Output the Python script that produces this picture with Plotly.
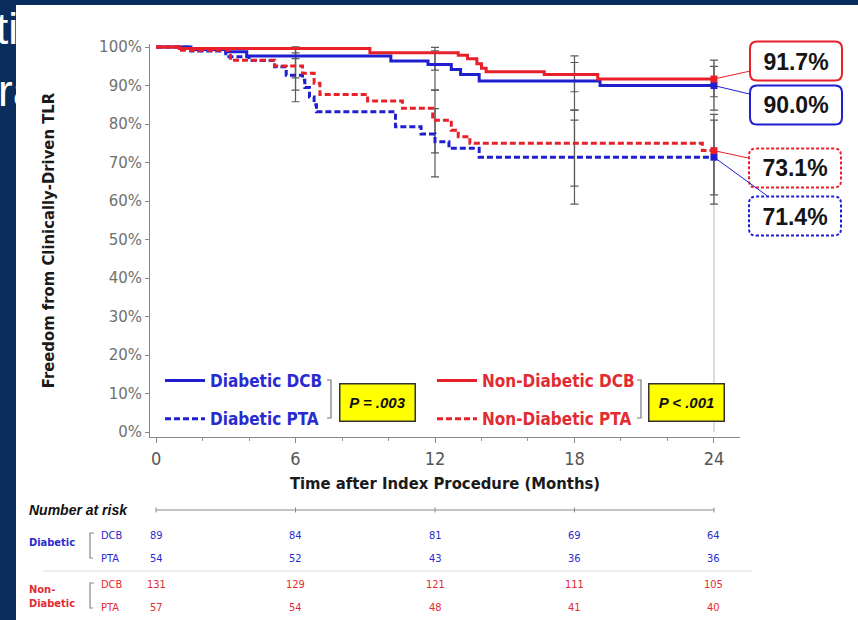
import plotly.graph_objects as go

# ---------------- data ----------------
months_ticks = [0, 6, 12, 18, 24]
y_ticks = [0, 10, 20, 30, 40, 50, 60, 70, 80, 90, 100]
y_tick_labels = [f"{v}%" for v in y_ticks]

# Kaplan-Meier step curves (month, % free from CD-TLR)
dcb_d_t = [0, 1.5, 3.0, 3.9, 10.1, 11.7, 12.7, 13.1, 13.9, 19.1, 24]
dcb_d_s = [100, 99.4, 98.8, 97.7, 96.4, 95.5, 94.2, 92.9, 91.2, 90.0, 90.0]

pta_d_t = [0, 1.5, 3.0, 4.0, 5.1, 5.6, 6.3, 6.4, 6.6, 6.8, 6.9, 10.3, 11.4, 12.0, 12.6, 13.9, 24]
pta_d_s = [100, 99.0, 97.5, 96.5, 94.9, 92.7, 91.4, 89.5, 87.0, 85.0, 83.2, 79.3, 77.4, 75.4, 73.7, 71.4, 71.4]

dcb_n_t = [0, 1.0, 9.2, 13.0, 13.4, 13.8, 14.0, 14.2, 16.7, 19.0, 24]
dcb_n_s = [100, 99.6, 98.5, 97.9, 97.0, 95.7, 94.5, 93.6, 92.9, 91.7, 91.7]

pta_n_t = [0, 1.0, 3.2, 5.1, 6.3, 6.8, 7.05, 9.1, 10.6, 11.9, 12.7, 13.0, 13.5, 23.5, 24]
pta_n_s = [100, 99.2, 96.6, 95.1, 93.2, 90.6, 87.7, 86.0, 84.1, 81.0, 78.4, 76.7, 75.0, 73.1, 73.1]

# 95% confidence intervals at 6, 12, 18, 24 months
ci_t = [6, 12, 18, 24]
dcb_d_est = [97.7, 95.5, 91.2, 90.0]
dcb_d_lo = [92.0, 88.8, 83.6, 83.6]
dcb_d_hi = [100.0, 99.0, 96.0, 95.0]
dcb_n_est = [99.6, 98.5, 92.9, 91.7]
dcb_n_lo = [97.0, 94.0, 88.4, 87.1]
dcb_n_hi = [100.0, 99.9, 97.7, 96.6]
pta_d_est = [92.7, 75.4, 71.4, 71.4]
pta_d_lo = [85.8, 66.3, 59.2, 59.2]
pta_d_hi = [98.5, 84.0, 81.0, 81.0]
pta_n_est = [95.1, 81.0, 75.0, 73.1]
pta_n_lo = [88.8, 72.5, 63.9, 61.6]
pta_n_hi = [99.5, 88.8, 83.6, 82.5]

# number at risk
risk_dcb_d = [89, 84, 81, 69, 64]
risk_pta_d = [54, 52, 43, 36, 36]
risk_dcb_n = [131, 129, 121, 111, 105]
risk_pta_n = [57, 54, 48, 41, 40]

p_diabetic = "P = .003"
p_nondiabetic = "P < .001"

# ---------------- style / layout helpers ----------------
W, H = 858, 620
L, R, T, B = 150, 740, 44, 437
XR = [-0.26, 25.12]
YR = [-1.3, 100.8]
BLUE = "#1f1fd0"
RED = "#e8202a"
BLUE_T = "#2a2ad0"
RED_T = "#e32b33"
NAVY = "#0b2d5e"
NARROW = "Noto Sans Condensed, DejaVu Sans Condensed, sans-serif"
SANS = "Liberation Sans, Arial, sans-serif"
DASH = "6px,3px"


def px_x(m):
    return L + (m - XR[0]) / (XR[1] - XR[0]) * (R - L)


def px_y(v):
    return B - (v - YR[0]) / (YR[1] - YR[0]) * (B - T)


def pap_x(px):
    return (px - L) / (R - L)


def pap_y(py):
    return (B - py) / (B - T)


fig = go.Figure()

# confidence interval bars
for est, lo, hi in [(dcb_d_est, dcb_d_lo, dcb_d_hi), (dcb_n_est, dcb_n_lo, dcb_n_hi),
                    (pta_d_est, pta_d_lo, pta_d_hi), (pta_n_est, pta_n_lo, pta_n_hi)]:
    fig.add_trace(go.Scatter(
        x=ci_t, y=est, mode="markers", marker=dict(size=1, color="rgba(0,0,0,0)"),
        error_y=dict(type="data", symmetric=False,
                     array=[h - e for h, e in zip(hi, est)],
                     arrayminus=[e - l for e, l in zip(est, lo)],
                     color="#5a5a5a", thickness=1.2, width=4),
        showlegend=False, hoverinfo="skip"))

# curves
curves = [
    ("Diabetic DCB", dcb_d_t, dcb_d_s, BLUE, "solid", "legend", "g1"),
    ("Diabetic PTA", pta_d_t, pta_d_s, BLUE, DASH, "legend", "g2"),
    ("Non-Diabetic DCB", dcb_n_t, dcb_n_s, RED, "solid", "legend2", "g3"),
    ("Non-Diabetic PTA", pta_n_t, pta_n_s, RED, DASH, "legend2", "g4"),
]
for name, t, s, col, dash, leg, grp in curves:
    fig.add_trace(go.Scatter(
        x=t, y=s, mode="lines", line=dict(color=col, width=3, dash=dash, shape="hv"),
        name=f"<b>{name}</b>", legend=leg, legendgroup=grp))

# end markers
for name, t, s, col, dash, leg, grp in curves:
    fig.add_trace(go.Scatter(x=[t[-1]], y=[s[-1]], mode="markers",
                             marker=dict(size=7, color=col, symbol="square"),
                             showlegend=False, hoverinfo="skip"))

shapes = []
annotations = []

# slide background strips
shapes.append(dict(type="rect", xref="paper", yref="paper", layer="below",
                   x0=pap_x(0), x1=pap_x(16), y0=pap_y(H), y1=pap_y(0),
                   fillcolor=NAVY, line=dict(width=0)))
shapes.append(dict(type="rect", xref="paper", yref="paper", layer="below",
                   x0=pap_x(0), x1=pap_x(W), y0=pap_y(5), y1=pap_y(0),
                   fillcolor=NAVY, line=dict(width=0)))
for txt, x0, yc in [("tia", -5, 28), ("rat", -3, 90)]:
    annotations.append(dict(text=txt, xref="paper", yref="paper", x=pap_x(x0), y=pap_y(yc),
                            xanchor="left", yanchor="middle", align="left", width=16 - x0,
                            borderpad=0, showarrow=False,
                            font=dict(family=SANS, size=44, color="white")))

# vertical reference line at 24 months
shapes.append(dict(type="line", xref="x", yref="y", x0=24, x1=24, y0=0, y1=max(dcb_n_hi[-1], dcb_d_hi[-1]),
                   line=dict(color="#b8b8b8", width=1), layer="below"))

# callout boxes
callouts = [
    (dcb_n_s[-1], RED, "solid", 796, 61),
    (dcb_d_s[-1], BLUE, "solid", 796, 105),
    (pta_n_s[-1], RED, "dash", 795, 168),
    (pta_d_s[-1], BLUE, "dash", 795, 216),
]
BW, BH, RAD = 92, 39, 7
for v, col, dash, cx, cy in callouts:
    x0, x1 = pap_x(cx - BW / 2), pap_x(cx + BW / 2)
    y0, y1 = pap_y(cy + BH / 2), pap_y(cy - BH / 2)
    rx, ry = RAD / (R - L), RAD / (B - T)
    path = (f"M{x0+rx},{y0} L{x1-rx},{y0} Q{x1},{y0} {x1},{y0+ry} L{x1},{y1-ry} "
            f"Q{x1},{y1} {x1-rx},{y1} L{x0+rx},{y1} Q{x0},{y1} {x0},{y1-ry} "
            f"L{x0},{y0+ry} Q{x0},{y0} {x0+rx},{y0} Z")
    shapes.append(dict(type="path", xref="paper", yref="paper", path=path,
                       fillcolor="white", line=dict(color=col, width=2,
                                                    dash="solid" if dash == "solid" else "3px,2px")))
    annotations.append(dict(x=24, y=v, xref="x", yref="y",
                            ax=cx - px_x(24), ay=cy - px_y(v),
                            text=f"<b>{v:.1f}%</b>", showarrow=True, arrowhead=0,
                            arrowwidth=1, arrowcolor=col, standoff=0,
                            width=BW, height=BH, borderpad=0,
                            font=dict(family=SANS, size=23, color="#151515")))

# legend brackets and p-value boxes
for bx in [331, 641]:
    shapes.append(dict(type="path", xref="paper", yref="paper",
                       path=f"M{pap_x(bx-4)},{pap_y(380)} L{pap_x(bx)},{pap_y(380)} "
                            f"L{pap_x(bx)},{pap_y(418)} L{pap_x(bx-4)},{pap_y(418)}",
                       line=dict(color="#777777", width=1.2)))
for txt, cx in [(p_diabetic, 377), (p_nondiabetic, 686)]:
    annotations.append(dict(text=f"<b><i>{txt}</i></b>", xref="paper", yref="paper",
                            x=pap_x(cx), y=pap_y(402), xanchor="center", yanchor="middle",
                            showarrow=False, width=72, height=34, borderpad=1,
                            bgcolor="#ffff00", bordercolor="#333333", borderwidth=1.5,
                            font=dict(family=SANS, size=15, color="#111111")))

# ---------------- number at risk table ----------------
annotations.append(dict(text="<b><i>Number at risk</i></b>", xref="paper", yref="paper",
                        x=pap_x(27), y=pap_y(510), xanchor="left", yanchor="middle",
                        showarrow=False, font=dict(family=SANS, size=14, color="#111111")))
shapes.append(dict(type="line", xref="x", yref="paper", x0=0, x1=24,
                   y0=pap_y(510), y1=pap_y(510), line=dict(color="#8a8a8a", width=1)))
for m in months_ticks:
    shapes.append(dict(type="line", xref="x", yref="paper", x0=m, x1=m,
                       y0=pap_y(507.5), y1=pap_y(512.5), line=dict(color="#8a8a8a", width=1)))
shapes.append(dict(type="line", xref="paper", yref="paper", x0=pap_x(43), x1=pap_x(752),
                   y0=pap_y(571), y1=pap_y(571), line=dict(color="#dddddd", width=1)))
for y_top, y_bot in [(533, 558), (583, 608)]:
    shapes.append(dict(type="path", xref="paper", yref="paper",
                       path=f"M{pap_x(94)},{pap_y(y_top)} L{pap_x(90)},{pap_y(y_top)} "
                            f"L{pap_x(90)},{pap_y(y_bot)} L{pap_x(93)},{pap_y(y_bot)}",
                       line=dict(color="#888888", width=1.2)))

annotations.append(dict(text="<b>Diabetic</b>", xref="paper", yref="paper", x=pap_x(27), y=pap_y(542),
                        xanchor="left", yanchor="middle", showarrow=False,
                        font=dict(family=NARROW, size=11, color=BLUE_T)))
annotations.append(dict(text="<b>Non-<br>Diabetic</b>", xref="paper", yref="paper", x=pap_x(27), y=pap_y(596),
                        xanchor="left", yanchor="middle", align="left", showarrow=False,
                        font=dict(family=NARROW, size=11, color=RED_T)))

rows = [("DCB", risk_dcb_d, 535, BLUE_T), ("PTA", risk_pta_d, 558, BLUE_T),
        ("DCB", risk_dcb_n, 584, RED_T), ("PTA", risk_pta_n, 607, RED_T)]
for lab, vals, yy, col in rows:
    annotations.append(dict(text=lab, xref="paper", yref="paper", x=pap_x(99), y=pap_y(yy),
                            xanchor="left", yanchor="middle", showarrow=False,
                            font=dict(family=NARROW, size=11, color=col)))
    for m, n in zip(months_ticks, vals):
        annotations.append(dict(text=str(n), xref="x", yref="paper", x=m, y=pap_y(yy),
                                xanchor="center", yanchor="middle", showarrow=False,
                                font=dict(family=NARROW, size=11, color=col)))

legend_common = dict(xanchor="left", yanchor="top", bgcolor="rgba(0,0,0,0)",
                     traceorder="grouped", tracegroupgap=13, itemwidth=40,
                     itemclick=False, itemdoubleclick=False)

fig.update_layout(
    width=W, height=H,
    margin=dict(l=L, r=W - R, t=T, b=H - B),
    paper_bgcolor="white", plot_bgcolor="white",
    showlegend=True,
    legend=dict(x=pap_x(160), y=pap_y(363), font=dict(family=NARROW, size=17, color=BLUE_T), **legend_common),
    legend2=dict(x=pap_x(432), y=pap_y(363), font=dict(family=NARROW, size=17, color=RED_T), **legend_common),
    xaxis=dict(range=XR, tickvals=months_ticks, ticks="outside", ticklen=5, tickcolor="#888888",
               showline=True, linecolor="#888888", linewidth=1, showgrid=False, zeroline=False,
               minor=dict(dtick=2, tick0=0, ticks="outside", ticklen=3, tickcolor="#999999"),
               tickfont=dict(family=NARROW, size=18, color="#555555"),
               title=dict(text="<b>Time after Index Procedure (Months)</b>", standoff=9,
                          font=dict(family=NARROW, size=16.5, color="#1a1a1a"))),
    yaxis=dict(range=YR, tickvals=y_ticks, ticktext=y_tick_labels, ticks="outside", ticklen=4,
               tickcolor="#888888", showline=True, linecolor="#888888", linewidth=1,
               showgrid=False, zeroline=False,
               tickfont=dict(family="DejaVu Sans, sans-serif", size=15, color="#707070"),
               title=dict(text="<b>Freedom from Clinically-Driven TLR</b>", standoff=40,
                          font=dict(family=NARROW, size=16.5, color="#1a1a1a"))),
    shapes=shapes,
    annotations=annotations,
)

fig.write_html("out.html", config={"displayModeBar": False},
               post_script="document.body.style.margin='0px';")
